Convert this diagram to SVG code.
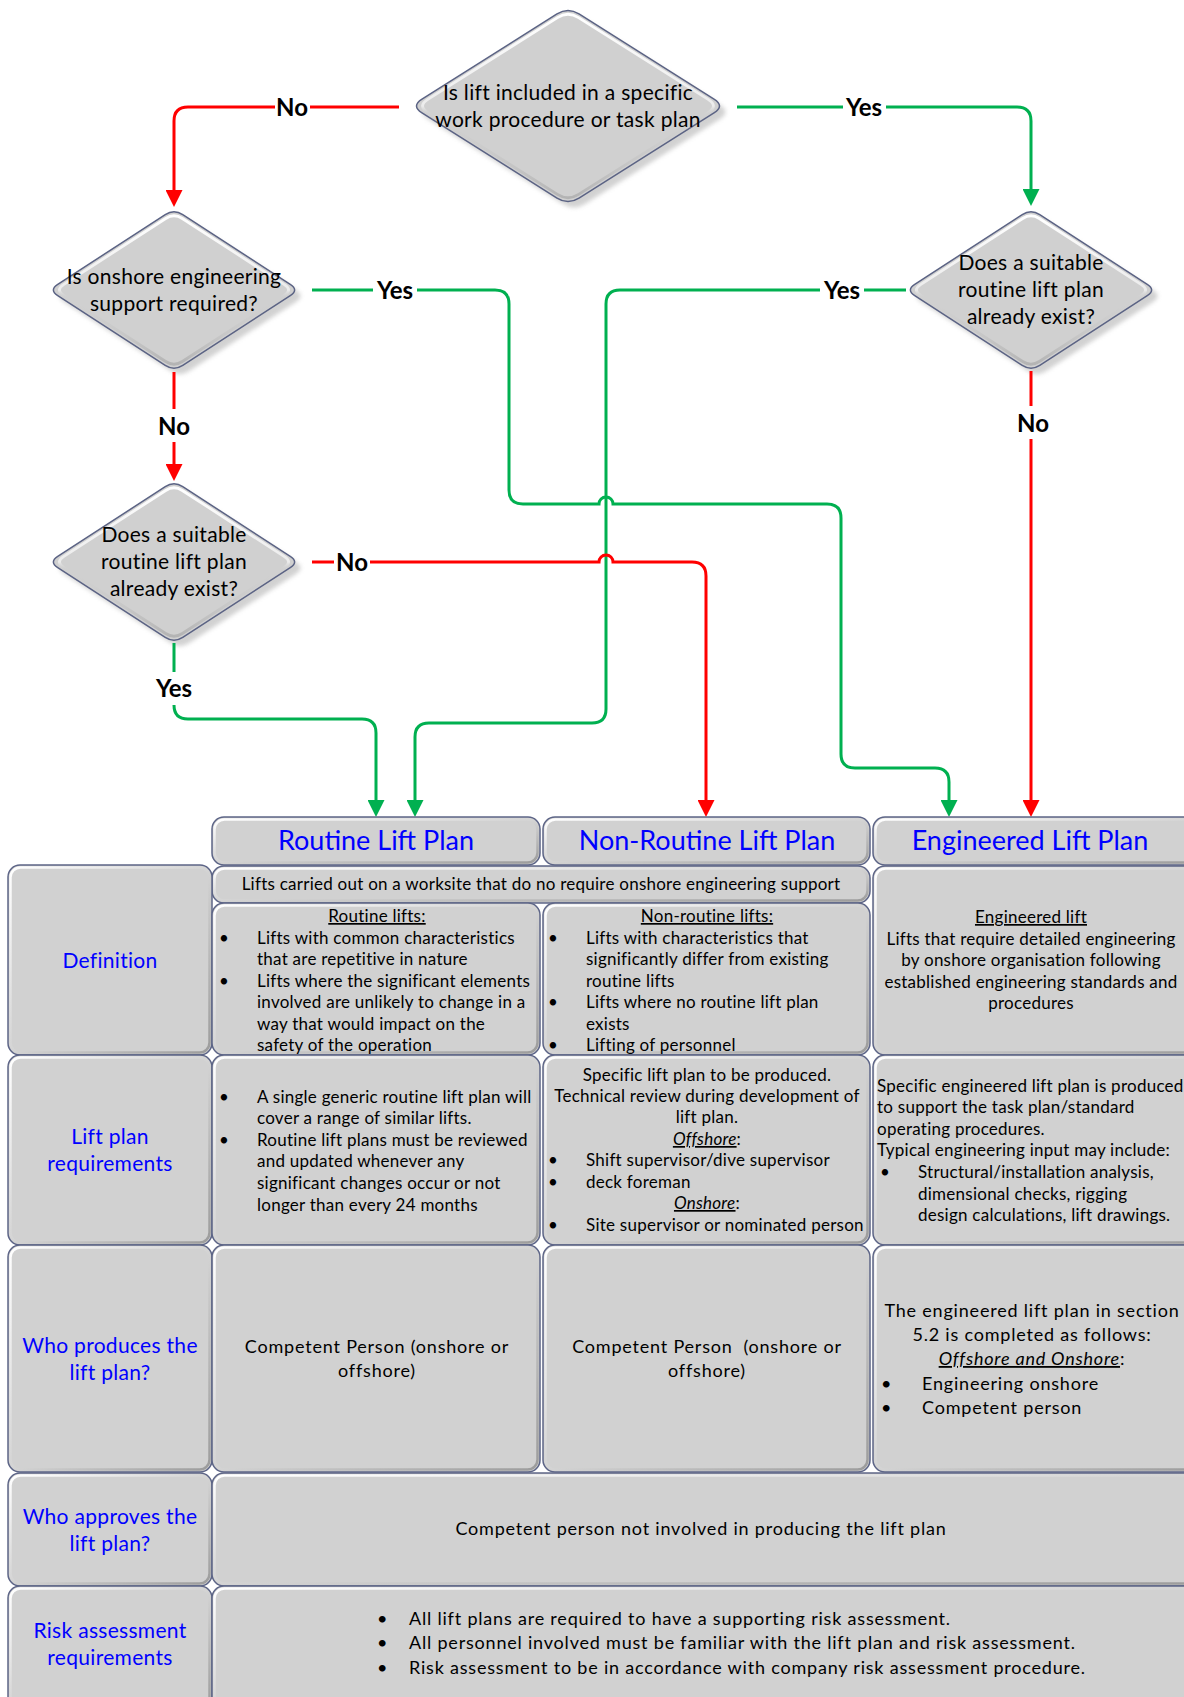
<svg xmlns="http://www.w3.org/2000/svg" width="1184" height="1697" viewBox="0 0 1184 1697">
<style>
text{font-family:Lato,"Open Sans","DejaVu Sans",sans-serif;fill:#000}
.t{font-size:17px;letter-spacing:0.25px}
.w{font-size:18px;letter-spacing:0.8px}
.c{text-anchor:middle}
.dt{font-size:21px;letter-spacing:0.3px;text-anchor:middle}
.lb{font-size:24px;font-weight:bold;text-anchor:middle}
.hd{font-size:27px;fill:#0000ff;text-anchor:middle}
.rl{font-size:21px;fill:#0000ff;text-anchor:middle;letter-spacing:0.3px}
.cell{fill:#d1d1d1;stroke:#5d6587;stroke-width:1.5}
.bev{fill:none;stroke:url(#bevG);stroke-width:2.5}
.dia{fill:#d0d0d0;stroke:#5b6384;stroke-width:1.5}
.dsh{fill:#b4b4b4;opacity:0.6;filter:url(#blur)}
.dhl{fill:none;stroke:url(#dhlG);stroke-width:3}
.red{stroke:#ff0000}
.grn{stroke:#00b050}
.gap{fill:#fff}
</style>
<defs>
<linearGradient id="bevG" x1="0" y1="0" x2="1" y2="1">
<stop offset="0" stop-color="#ffffff"/>
<stop offset="0.5" stop-color="#d4d4d4"/>
<stop offset="1" stop-color="#9c9c9c"/>
</linearGradient>
<linearGradient id="dhlG" x1="0" y1="0" x2="0" y2="1">
<stop offset="0" stop-color="#ffffff"/>
<stop offset="0.5" stop-color="#ffffff" stop-opacity="0.6"/>
<stop offset="0.55" stop-color="#d0d0d0" stop-opacity="0"/>
<stop offset="1" stop-color="#a0a0a0" stop-opacity="0.6"/>
</linearGradient>
<filter id="blur" x="-10%" y="-10%" width="120%" height="120%"><feGaussianBlur stdDeviation="2"/></filter>
<path id="dS" d="M 8.75,-75.33 L 116.25,-5.67 Q 125,0 116.25,5.67 L 8.75,75.33 Q 0,81 -8.75,75.33 L -116.25,5.67 Q -125,0 -116.25,-5.67 L -8.75,-75.33 Q 0,-81 8.75,-75.33 Z"/>
<path id="dL" d="M 11,-92.07 L 146,-6.93 Q 157,0 146,6.93 L 11,92.07 Q 0,99 -11,92.07 L -146,6.93 Q -157,0 -146,-6.93 L -11,-92.07 Q 0,-99 11,-92.07 Z"/>
<marker id="aR" viewBox="0 0 17 17" markerUnits="userSpaceOnUse" markerWidth="17" markerHeight="17" refX="13" refY="8.5" orient="auto"><path d="M0,0 L17,8.5 L0,17 Z" fill="#ff0000"/></marker>
<marker id="aG" viewBox="0 0 17 17" markerUnits="userSpaceOnUse" markerWidth="17" markerHeight="17" refX="13" refY="8.5" orient="auto"><path d="M0,0 L17,8.5 L0,17 Z" fill="#00b050"/></marker>
</defs>
<rect width="1184" height="1697" fill="#ffffff"/>

<!-- Decision nodes -->
<g id="q-top">
<use href="#dL" class="dsh" transform="translate(574,112)"/>
<use href="#dL" class="dia" transform="translate(568,106)"/>
<use href="#dL" class="dhl" transform="translate(568,106) scale(0.96)"/>
<text class="dt" x="568" y="100">Is lift included in a specific</text>
<text class="dt" x="568" y="127">work procedure or task plan</text>
</g>
<g id="q-onshore">
<use href="#dS" class="dsh" transform="translate(180,296)"/>
<use href="#dS" class="dia" transform="translate(174,290)"/>
<use href="#dS" class="dhl" transform="translate(174,290) scale(0.95)"/>
<text class="dt" x="174" y="284">Is onshore engineering</text>
<text class="dt" x="174" y="311">support required?</text>
</g>
<g id="q-routine-right">
<use href="#dS" class="dsh" transform="translate(1037,296)"/>
<use href="#dS" class="dia" transform="translate(1031,290)"/>
<use href="#dS" class="dhl" transform="translate(1031,290) scale(0.95)"/>
<text class="dt" x="1031" y="270">Does a suitable</text>
<text class="dt" x="1031" y="297">routine lift plan</text>
<text class="dt" x="1031" y="324">already exist?</text>
</g>
<g id="q-routine-left">
<use href="#dS" class="dsh" transform="translate(180,568)"/>
<use href="#dS" class="dia" transform="translate(174,562)"/>
<use href="#dS" class="dhl" transform="translate(174,562) scale(0.95)"/>
<text class="dt" x="174" y="542">Does a suitable</text>
<text class="dt" x="174" y="569">routine lift plan</text>
<text class="dt" x="174" y="596">already exist?</text>
</g>

<!-- Connectors -->
<g id="connectors" fill="none" stroke-width="3">
<path class="red" d="M 399,107 H 188 Q 174,107 174,121 V 203" marker-end="url(#aR)"/>
<path class="grn" d="M 737,107 H 1017 Q 1031,107 1031,121 V 202" marker-end="url(#aG)"/>
<path class="grn" d="M 312,290 H 495 Q 509,290 509,304 V 490 Q 509,504 523,504 H 599 A 7,7 0 0 1 613,504 H 827 Q 841,504 841,518 V 754 Q 841,768 855,768 H 935 Q 949,768 949,782 V 813" marker-end="url(#aG)"/>
<path class="red" d="M 174,372 V 477" marker-end="url(#aR)"/>
<path class="grn" d="M 906,290 H 620 Q 606,290 606,304 V 709 Q 606,723 592,723 H 429 Q 415,723 415,737 V 813" marker-end="url(#aG)"/>
<path class="red" d="M 1031,371 V 813" marker-end="url(#aR)"/>
<path class="red" d="M 312,562 H 599 A 7,7 0 0 1 613,562 H 692 Q 706,562 706,576 V 813" marker-end="url(#aR)"/>
<path class="grn" d="M 174,643 V 705 Q 174,719 188,719 H 362 Q 376,719 376,733 V 813" marker-end="url(#aG)"/>
<g stroke="none">
<rect class="gap" x="275" y="93" width="35" height="28"/>
<text class="lb" x="292" y="115.5">No</text>
<rect class="gap" x="843" y="93" width="43" height="28"/>
<text class="lb" x="864" y="115.5">Yes</text>
<rect class="gap" x="373" y="276" width="44" height="28"/>
<text class="lb" x="395" y="298.5">Yes</text>
<rect class="gap" x="820" y="276" width="44" height="28"/>
<text class="lb" x="842" y="298.5">Yes</text>
<rect class="gap" x="156" y="409" width="36" height="33"/>
<text class="lb" x="174" y="434.5">No</text>
<rect class="gap" x="1015" y="406" width="36" height="33"/>
<text class="lb" x="1033" y="431.5">No</text>
<rect class="gap" x="334" y="548" width="36" height="28"/>
<text class="lb" x="352" y="570.5">No</text>
<rect class="gap" x="152" y="672" width="44" height="33"/>
<text class="lb" x="174" y="696.5">Yes</text>
</g>
</g>

<!-- Table -->
<g id="hdr-routine">
<rect class="cell" x="212" y="817" width="328" height="48" rx="12"/>
<rect class="bev" x="214.5" y="819.5" width="323" height="43" rx="10"/>
<text class="hd" x="376" y="850">Routine Lift Plan</text>
</g>
<g id="hdr-nonroutine">
<rect class="cell" x="543" y="817" width="327" height="48" rx="12"/>
<rect class="bev" x="545.5" y="819.5" width="322" height="43" rx="10"/>
<text class="hd" x="707" y="850">Non-Routine Lift Plan</text>
</g>
<g id="hdr-engineered">
<rect class="cell" x="873" y="817" width="330" height="48" rx="12"/>
<rect class="bev" x="875.5" y="819.5" width="325" height="43" rx="10"/>
<text class="hd" x="1030" y="850">Engineered Lift Plan</text>
</g>

<g id="def-common">
<rect class="cell" x="212" y="866" width="658" height="37" rx="12"/>
<rect class="bev" x="214.5" y="868.5" width="653" height="32" rx="10"/>
<text class="t c" x="541" y="890">Lifts carried out on a worksite that do no require onshore engineering support</text>
</g>
<g id="lbl-definition">
<rect class="cell" x="8" y="865" width="204" height="190" rx="12"/>
<rect class="bev" x="10.5" y="867.5" width="199" height="185" rx="10"/>
<text class="rl" x="110" y="968">Definition</text>
</g>
<g id="def-routine">
<rect class="cell" x="212" y="903" width="328" height="152" rx="12"/>
<rect class="bev" x="214.5" y="905.5" width="323" height="147" rx="10"/>
<text class="t c" x="377" y="922"><tspan text-decoration="underline">Routine lifts:</tspan></text>
<text class="t" x="219" y="943.5">•</text>
<text class="t" x="257" y="943.5">Lifts with common characteristics</text>
<text class="t" x="257" y="965">that are repetitive in nature</text>
<text class="t" x="219" y="986.5">•</text>
<text class="t" x="257" y="986.5">Lifts where the significant elements</text>
<text class="t" x="257" y="1008">involved are unlikely to change in a</text>
<text class="t" x="257" y="1029.5">way that would impact on the</text>
<text class="t" x="257" y="1051">safety of the operation</text>
</g>
<g id="def-nonroutine">
<rect class="cell" x="543" y="903" width="327" height="152" rx="12"/>
<rect class="bev" x="545.5" y="905.5" width="322" height="147" rx="10"/>
<text class="t c" x="707" y="922"><tspan text-decoration="underline">Non-routine lifts:</tspan></text>
<text class="t" x="548" y="943.5">•</text>
<text class="t" x="586" y="943.5">Lifts with characteristics that</text>
<text class="t" x="586" y="965">significantly differ from existing</text>
<text class="t" x="586" y="986.5">routine lifts</text>
<text class="t" x="548" y="1008">•</text>
<text class="t" x="586" y="1008">Lifts where no routine lift plan</text>
<text class="t" x="586" y="1029.5">exists</text>
<text class="t" x="548" y="1051">•</text>
<text class="t" x="586" y="1051">Lifting of personnel</text>
</g>
<g id="def-engineered">
<rect class="cell" x="873" y="866" width="330" height="189" rx="12"/>
<rect class="bev" x="875.5" y="868.5" width="325" height="184" rx="10"/>
<text class="t c" x="1031" y="923"><tspan text-decoration="underline">Engineered lift</tspan></text>
<text class="t c" x="1031" y="945">Lifts that require detailed engineering</text>
<text class="t c" x="1031" y="966">by onshore organisation following</text>
<text class="t c" x="1031" y="988">established engineering standards and</text>
<text class="t c" x="1031" y="1009">procedures</text>
</g>

<g id="lbl-requirements">
<rect class="cell" x="8" y="1055" width="204" height="190" rx="12"/>
<rect class="bev" x="10.5" y="1057.5" width="199" height="185" rx="10"/>
<text class="rl" x="110" y="1144">Lift plan</text>
<text class="rl" x="110" y="1171">requirements</text>
</g>
<g id="req-routine">
<rect class="cell" x="212" y="1055" width="328" height="190" rx="12"/>
<rect class="bev" x="214.5" y="1057.5" width="323" height="185" rx="10"/>
<text class="t" x="219" y="1103">•</text>
<text class="t" x="257" y="1103">A single generic routine lift plan will</text>
<text class="t" x="257" y="1124">cover a range of similar lifts.</text>
<text class="t" x="219" y="1146">•</text>
<text class="t" x="257" y="1146">Routine lift plans must be reviewed</text>
<text class="t" x="257" y="1167">and updated whenever any</text>
<text class="t" x="257" y="1189">significant changes occur or not</text>
<text class="t" x="257" y="1211">longer than every 24 months</text>
</g>
<g id="req-nonroutine">
<rect class="cell" x="543" y="1055" width="327" height="190" rx="12"/>
<rect class="bev" x="545.5" y="1057.5" width="322" height="185" rx="10"/>
<text class="t c" x="707" y="1081">Specific lift plan to be produced.</text>
<text class="t c" x="707" y="1102">Technical review during development of</text>
<text class="t c" x="707" y="1123">lift plan.</text>
<text class="t c" x="707" y="1145"><tspan font-style="italic" text-decoration="underline">Offshore</tspan>:</text>
<text class="t" x="548" y="1166">•</text>
<text class="t" x="586" y="1166">Shift supervisor/dive supervisor</text>
<text class="t" x="548" y="1188">•</text>
<text class="t" x="586" y="1188">deck foreman</text>
<text class="t c" x="707" y="1209"><tspan font-style="italic" text-decoration="underline">Onshore</tspan>:</text>
<text class="t" x="548" y="1231">•</text>
<text class="t" x="586" y="1231">Site supervisor or nominated person</text>
</g>
<g id="req-engineered">
<rect class="cell" x="873" y="1055" width="330" height="190" rx="12"/>
<rect class="bev" x="875.5" y="1057.5" width="325" height="185" rx="10"/>
<text class="t" x="877" y="1092" letter-spacing="0">Specific engineered lift plan is produced</text>
<text class="t" x="877" y="1113">to support the task plan/standard</text>
<text class="t" x="877" y="1135">operating procedures.</text>
<text class="t" x="877" y="1156">Typical engineering input may include:</text>
<text class="t" x="880" y="1178">•</text>
<text class="t" x="918" y="1178">Structural/installation analysis,</text>
<text class="t" x="918" y="1200">dimensional checks, rigging</text>
<text class="t" x="918" y="1221">design calculations, lift drawings.</text>
</g>

<g id="lbl-produces">
<rect class="cell" x="8" y="1245" width="204" height="227" rx="12"/>
<rect class="bev" x="10.5" y="1247.5" width="199" height="222" rx="10"/>
<text class="rl" x="110" y="1353">Who produces the</text>
<text class="rl" x="110" y="1380">lift plan?</text>
</g>
<g id="prod-routine">
<rect class="cell" x="212" y="1245" width="328" height="227" rx="12"/>
<rect class="bev" x="214.5" y="1247.5" width="323" height="222" rx="10"/>
<text class="w c" x="377" y="1353">Competent Person (onshore or</text>
<text class="w c" x="377" y="1377">offshore)</text>
</g>
<g id="prod-nonroutine">
<rect class="cell" x="543" y="1245" width="327" height="227" rx="12"/>
<rect class="bev" x="545.5" y="1247.5" width="322" height="222" rx="10"/>
<text class="w c" x="707" y="1353" xml:space="preserve">Competent Person  (onshore or</text>
<text class="w c" x="707" y="1377">offshore)</text>
</g>
<g id="prod-engineered">
<rect class="cell" x="873" y="1245" width="330" height="227" rx="12"/>
<rect class="bev" x="875.5" y="1247.5" width="325" height="222" rx="10"/>
<text class="w c" x="1032" y="1317">The engineered lift plan in section</text>
<text class="w c" x="1032" y="1341">5.2 is completed as follows:</text>
<text class="w c" x="1032" y="1365"><tspan font-style="italic" text-decoration="underline">Offshore and Onshore</tspan>:</text>
<text class="w" x="881" y="1390">•</text>
<text class="w" x="922" y="1390">Engineering onshore</text>
<text class="w" x="881" y="1414">•</text>
<text class="w" x="922" y="1414">Competent person</text>
</g>

<g id="lbl-approves">
<rect class="cell" x="8" y="1473" width="204" height="113" rx="12"/>
<rect class="bev" x="10.5" y="1475.5" width="199" height="108" rx="10"/>
<text class="rl" x="110" y="1524">Who approves the</text>
<text class="rl" x="110" y="1551">lift plan?</text>
</g>
<g id="appr-content">
<rect class="cell" x="212" y="1473" width="991" height="113" rx="12"/>
<rect class="bev" x="214.5" y="1475.5" width="986" height="108" rx="10"/>
<text class="w c" x="701" y="1535">Competent person not involved in producing the lift plan</text>
</g>

<g id="lbl-risk">
<rect class="cell" x="8" y="1586" width="204" height="125" rx="12"/>
<rect class="bev" x="10.5" y="1588.5" width="199" height="120" rx="10"/>
<text class="rl" x="110" y="1638">Risk assessment</text>
<text class="rl" x="110" y="1665">requirements</text>
</g>
<g id="risk-content">
<rect class="cell" x="212" y="1586" width="991" height="125" rx="12"/>
<rect class="bev" x="214.5" y="1588.5" width="986" height="120" rx="10"/>
<text class="w" x="377" y="1625">•</text>
<text class="w" x="409" y="1625">All lift plans are required to have a supporting risk assessment.</text>
<text class="w" x="377" y="1649">•</text>
<text class="w" x="409" y="1649">All personnel involved must be familiar with the lift plan and risk assessment.</text>
<text class="w" x="377" y="1674">•</text>
<text class="w" x="409" y="1674">Risk assessment to be in accordance with company risk assessment procedure.</text>
</g>
</svg>
